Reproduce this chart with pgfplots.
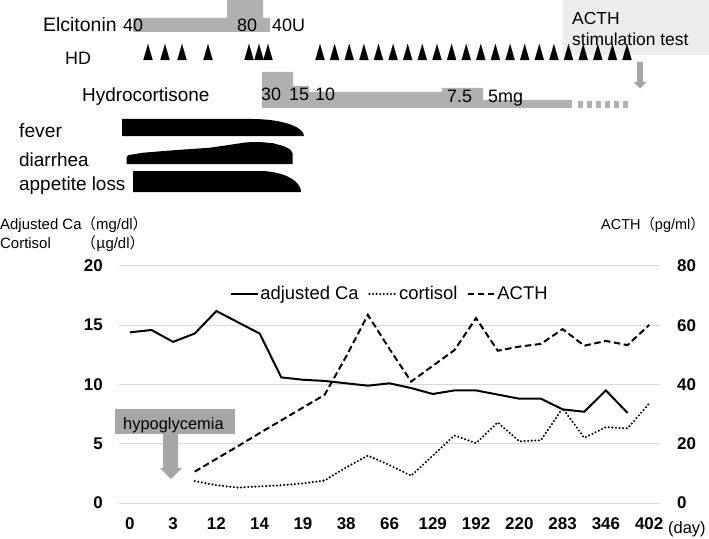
\documentclass[border=0pt]{standalone}
\usepackage{pgfplots}
\pgfplotsset{compat=1.18}
\usepackage{fontspec}
\setmainfont{Liberation Sans}
\newfontfamily\cjk{Noto Sans CJK JP}
\definecolor{barg}{RGB}{176,176,176}
\definecolor{boxg}{RGB}{166,166,166}
\definecolor{gridg}{RGB}{217,217,217}
\definecolor{stimg}{RGB}{236,236,236}
\newcommand{\fs}[1]{\fontsize{#1}{#1}\selectfont}

\begin{document}
\begin{tikzpicture}
\path[use as bounding box] (0,0) rectangle (709bp,539bp);

% ---------------- main axis (left: Ca, cortisol) ----------------
\begin{axis}[
  at={(119bp,36bp)}, anchor=south west,
  scale only axis, width=541bp, height=237bp,
  xmin=-0.5, xmax=24.5, ymin=0, ymax=20,
  xtick={0,2,...,24},
  xticklabels={0,3,12,14,19,38,66,129,192,220,283,346,402},
  ytick={0,5,10,15,20},
  ymajorgrids, grid style={gridg, line width=1bp},
  axis line style={draw=none},
  major tick length=0pt,
  /pgf/number format/assume math mode=true,
  tick label style={font=\bfseries\fs{17}},
  yticklabel style={inner sep=0pt, anchor=east, xshift=-16bp},
  xticklabel style={inner sep=0pt, anchor=base, yshift=-26bp},
  legend columns=-1,
  legend style={at={(0.5,0.882)}, anchor=center, draw=none, fill=none,
    font=\fs{18.5}, nodes={inner sep=1.5bp},
    /tikz/every even column/.append style={column sep=8bp}},
  legend cell align=left,
  legend image code/.code={\draw[#1] (0bp,0bp) -- (27bp,0bp);},
]
\addplot[black, line width=2bp] coordinates {
 (0,14.4) (1,14.6) (2,13.6) (3,14.3) (4,16.2) (5,15.25) (6,14.3) (7,10.6)
 (8,10.4) (9,10.3) (10,10.1) (11,9.9) (12,10.1) (13,9.7) (14,9.2) (15,9.5)
 (16,9.5) (17,9.15) (18,8.8) (19,8.8) (20,7.9) (21,7.7) (22,9.5) (23,7.6)};
\addlegendentry{adjusted Ca}
\addplot[black, line width=2.3bp, dash pattern=on 0bp off 3.6bp, line cap=round] coordinates {
 (3,1.85) (4,1.5) (5,1.3) (6,1.4) (7,1.5) (8,1.65) (9,1.9) (10,3.0)
 (11,4.0) (12,3.2) (13,2.3) (14,4.0) (15,5.7) (16,5.05) (17,6.8) (18,5.2)
 (19,5.3) (20,8.0) (21,5.5) (22,6.4) (23,6.3) (24,8.4)};
\addlegendentry{cortisol}
\addlegendimage{black, line width=2bp, dash pattern=on 6.5bp off 3.5bp}
\addlegendentry{ACTH}
\end{axis}

% ---------------- right axis (ACTH) ----------------
\begin{axis}[
  at={(119bp,36bp)}, anchor=south west,
  scale only axis, width=541bp, height=237bp,
  xmin=-0.5, xmax=24.5, ymin=0, ymax=80,
  axis x line=none, axis y line*=right,
  axis line style={draw=none},
  ytick={0,20,40,60,80},
  major tick length=0pt,
  /pgf/number format/assume math mode=true,
  tick label style={font=\bfseries\fs{17}},
  yticklabel style={inner sep=0pt, anchor=west, xshift=17bp},
]
\addplot[black, line width=2bp, dash pattern=on 6.5bp off 3.5bp] coordinates {
 (3,10.6) (4,14.9) (5,19.2) (6,23.6) (7,27.9) (8,32.2) (9,36.5) (10,49.5)
 (11,63.5) (12,52) (13,41) (14,46.3) (15,51.6) (16,62.4) (17,51.4) (18,52.8)
 (19,53.7) (20,58.7) (21,53.1) (22,54.7) (23,53.3) (24,60.1)};
\end{axis}

% ---------------- overlay axis in image units (y downward) ----------------
\begin{axis}[
  at={(0bp,0bp)}, anchor=south west,
  scale only axis, width=709bp, height=539bp,
  xmin=0, xmax=709, ymin=0, ymax=539, y dir=reverse,
  hide axis, clip=false,
]
% ACTH stimulation test box
\addplot[fill=stimg, draw=none] coordinates {(563,0) (709,0) (709,55) (563,55)};
% Elcitonin bar
\addplot[fill=barg, draw=none] coordinates {
 (133,32) (133,18) (227,18) (227,0) (263,0) (263,18) (270,18) (270,32)};
% HD triangles
\addplot[only marks, mark=triangle*, mark size=5.3bp,
  mark options={yscale=2, fill=black, draw=black, line width=0.1bp}] coordinates {
 (148,54.7) (165,54.7) (182,54.7) (208,54.7) (249,54.7) (259,54.7) (268,54.7)
 (320,54.7) (334.6,54.7) (349.2,54.7) (363.9,54.7) (378.5,54.7) (393.1,54.7)
 (407.7,54.7) (422.3,54.7) (437.0,54.7) (451.6,54.7) (466.2,54.7) (480.8,54.7)
 (495.4,54.7) (510.1,54.7) (524.7,54.7) (539.3,54.7) (553.9,54.7) (568.5,54.7)
 (583.2,54.7) (597.8,54.7) (612.4,54.7) (627.0,54.7)};
% Hydrocortisone bar
\addplot[fill=barg, draw=none] coordinates {
 (262,108) (262,72) (293,72) (293,86) (309,86) (309,92) (442,92) (442,88)
 (483,88) (483,100) (572,100) (572,108)};
\addplot[draw=barg, line width=7bp, dash pattern=on 4.5bp off 4.5bp] coordinates {
 (578,104.5) (628,104.5)};
% arrow under ACTH stimulation test
\addplot[fill=boxg, draw=none] coordinates {
 (637,62) (643,62) (643,82) (646.5,82) (640,88.5) (633.5,82) (637,82)};
% symptoms
\addplot[fill=black, draw=none] coordinates {
 (122,136) (122,119) (253,119) (261.9,119.3) (270.4,120.0) (278.5,121.3)
 (285.8,123.0) (292.1,125.1) (297.2,127.5) (300.9,130.2) (303.2,133.0) (304,136)};
\addplot[fill=black, draw=none] coordinates {
 (126.7,164) (126.7,157.5) (127.5,155.7) (129,155) (143.3,152.7) (176.7,150)
 (210,147.7) (233.3,144.3) (246.7,142.3) (260,142) (273.3,143.3) (283.3,146)
 (290,149.3) (292.7,153.3) (292.7,164)};
\addplot[fill=black, draw=none] coordinates {
 (133,192) (133,171) (260,171) (267.1,171.3) (274.0,172.3) (280.5,173.8)
 (286.4,175.9) (291.4,178.5) (295.5,181.5) (298.5,184.8) (300.4,188.4) (301,192)};
% hypoglycemia box and arrow
\addplot[fill=boxg, draw=none] coordinates {(115,409) (235,409) (235,434) (115,434)};
\addplot[fill=boxg, draw=none] coordinates {
 (163,434) (178,434) (178,468) (182,468) (171,479) (160,468) (163,468)};

% texts
\begin{scope}[every node/.style={inner sep=0pt, anchor=base west}]
\node[font=\fs{19.5}] at (axis cs:43,32) {Elcitonin};
\node[font=\fs{18}] at (axis cs:123,32) {40};
\node[font=\fs{18}] at (axis cs:237,32) {80};
\node[font=\fs{18}] at (axis cs:272,32) {40U};
\node[font=\fs{18}] at (axis cs:65,65) {HD};
\node[font=\fs{19}] at (axis cs:82,101) {Hydrocortisone};
\node[font=\fs{18}] at (axis cs:261,100) {30};
\node[font=\fs{18}] at (axis cs:289,100) {15};
\node[font=\fs{18}] at (axis cs:315,100) {10};
\node[font=\fs{18}] at (axis cs:447,102) {7.5};
\node[font=\fs{18}] at (axis cs:488,102) {5mg};
\node[font=\fs{17.5}] at (axis cs:572,25) {ACTH};
\node[font=\fs{17.5}] at (axis cs:572,46) {stimulation test};
\node[font=\fs{19.3}] at (axis cs:19,137) {fever};
\node[font=\fs{19}] at (axis cs:19,166) {diarrhea};
\node[font=\fs{19}] at (axis cs:19,190) {appetite loss};
\node[font=\fs{16.5}] at (axis cs:123,429) {hypoglycemia};
\node[font=\fs{15}] at (axis cs:0,229) {Adjusted Ca};
\node[font=\fs{15}] at (axis cs:81,229) {{\cjk （}mg/dl{\cjk ）}};
\node[font=\fs{15}] at (axis cs:0,248) {Cortisol};
\node[font=\fs{15}] at (axis cs:81,248) {{\cjk （μ}g/dl{\cjk ）}};
\node[font=\fs{14.5}] at (axis cs:601,229) {ACTH{\cjk （}pg/ml{\cjk ）}};
\node[font=\fs{16.5}] at (axis cs:668,533) {(day)};
\end{scope}
\end{axis}
\end{tikzpicture}
\end{document}
